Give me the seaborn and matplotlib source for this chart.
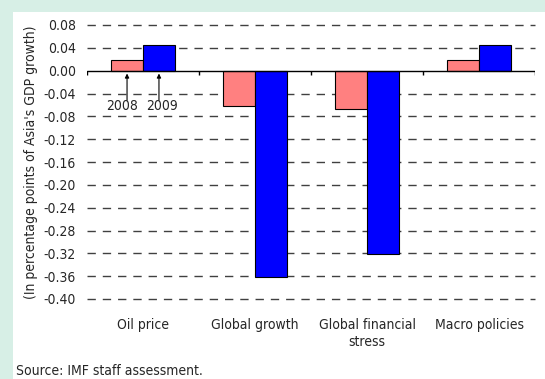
import numpy as np
import pandas as pd
import matplotlib as mpl
mpl.use("Agg")
import matplotlib.pyplot as plt
import seaborn as sns

# data
categories = ["Oil price", "Global growth", "Global financial\nstress", "Macro policies"]
years = ["2008", "2009"]
vals_2008 = [0.018, -0.062, -0.068, 0.018]
vals_2009 = [0.045, -0.362, -0.321, 0.045]
ytick_vals = [0.08, 0.04, 0.00, -0.04, -0.08, -0.12, -0.16, -0.20, -0.24,
              -0.28, -0.32, -0.36, -0.40]

df = pd.DataFrame({
    "category": categories * 2,
    "year": [years[0]] * 4 + [years[1]] * 4,
    "value": vals_2008 + vals_2009,
})

sns.set_style("white")
plt.rcParams["font.family"] = ["DejaVu Sans"]
plt.rcParams["font.stretch"] = "condensed"
plt.rcParams["axes.unicode_minus"] = False

fig = plt.figure(figsize=(5.45, 3.79), dpi=100)
fig.patch.set_facecolor("#d7efe6")
# white panel
fig.patches.append(mpl.patches.Rectangle((13 / 545, 0), 1, (379 - 12) / 379,
                                         transform=fig.transFigure,
                                         facecolor="white", edgecolor="none",
                                         zorder=-5))

ax = fig.add_axes([87 / 545, (379 - 299) / 379, (535 - 87) / 545, (299 - 25) / 379])
ax.set_facecolor("none")
ax.set_zorder(2)

sns.barplot(data=df, x="category", y="value", hue="year",
            palette=["#ff8080", "#0000ff"], saturation=1, width=0.57,
            edgecolor="black", linewidth=0.8, ax=ax, legend=False, zorder=3)

ax.set_ylim(-0.40, 0.08)
ax.set_xlim(-0.5, 3.5)
ax.set_yticks(ytick_vals)
ax.set_yticklabels([f"{v:.2f}" for v in ytick_vals], fontsize=10)
for v in ytick_vals:
    if v != 0:
        ax.axhline(v, color="#404040", lw=1.0, ls=(0, (6, 5)), zorder=1, clip_on=False)
ax.axhline(0, color="black", lw=1.0, zorder=4)
# small tick marks at category boundaries on the zero line
ax.vlines(np.arange(-0.5, 4.0, 1.0), -0.008, 0, color="black", lw=1.0, zorder=4)

for s in ax.spines.values():
    s.set_visible(False)
ax.tick_params(axis="y", length=0, pad=8)
ax.tick_params(axis="x", length=0, pad=14, labelsize=10)
ax.set_xlabel("")
ax.set_ylabel("(In percentage points of Asia's GDP growth)", fontsize=10, labelpad=4)

# year annotations under the first group
year_x = [-0.1425, 0.1425]
label_x = [-0.19, 0.17]
for yr, bx, lx in zip(years, year_x, label_x):
    ax.annotate("", xy=(bx, -0.005), xytext=(bx, -0.052),
                arrowprops=dict(arrowstyle="-|>", color="black", lw=0.8,
                                shrinkA=0, shrinkB=0, mutation_scale=6))
    ax.text(lx, -0.062, yr, ha="center", va="center", fontsize=10)

fig.text(16 / 545, 8 / 379, "Source: IMF staff assessment.", fontsize=10,
         va="center", ha="left")

fig.savefig("out.png", dpi=100, facecolor=fig.get_facecolor())
